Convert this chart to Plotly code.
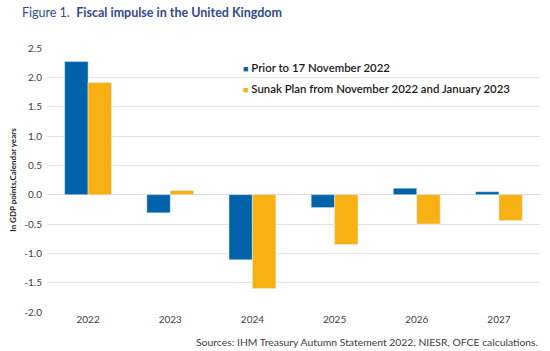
import plotly.graph_objects as go

years = ["2022", "2023", "2024", "2025", "2026", "2027"]
prior = [2.27, -0.31, -1.11, -0.22, 0.11, 0.05]
sunak = [1.91, 0.07, -1.60, -0.85, -0.50, -0.44]
series_names = ["Prior to 17 November 2022", "Sunak Plan from November 2022 and January 2023"]
colors = ["#0063A9", "#F8B112"]
tick_vals = [2.5, 2.0, 1.5, 1.0, 0.5, 0.0, -0.5, -1.0, -1.5, -2.0]
tick_text = [f"{v:.1f}" for v in tick_vals]

font_family = "Lato, 'Open Sans', sans-serif"

fig = go.Figure()
for vals, name, col in zip([prior, sunak], series_names, colors):
    fig.add_trace(go.Bar(x=years, y=vals, name=name, marker=dict(color=col)))

fig.update_layout(
    width=550, height=351,
    margin=dict(l=47, r=10, t=48, b=39),
    plot_bgcolor="white", paper_bgcolor="white",
    barmode="group", bargap=0.43, bargroupgap=0,
    font=dict(family=font_family, size=10, color="#404040"),
    showlegend=False,
    xaxis=dict(showgrid=False, showline=False, ticks="", tickfont=dict(size=10, color="#404040")),
    yaxis=dict(range=[-2.0, 2.5], tickvals=tick_vals, ticktext=tick_text,
               gridcolor="#E3E3E3", gridwidth=1, zeroline=True, zerolinecolor="#D9D9D9", zerolinewidth=1,
               showline=False, ticks="", tickfont=dict(size=10, color="#404040"), ticklabelstandoff=4,
               title=dict(text="<b>In GDP points,Calendar years</b>", font=dict(size=8, color="#1a1a1a"), standoff=6)),
)

legend_y = [0.928, 0.845]
for name, col, ly in zip(series_names, colors, legend_y):
    fig.add_annotation(text=f"<span style='color:{col};font-size:9px'>■</span> {name}",
                       xref="paper", yref="paper", x=0.3935, xanchor="left", y=ly, yanchor="middle",
                       showarrow=False, font=dict(size=11.4, color="#1a1a1a", family=font_family, weight=600))

fig.add_annotation(text="Figure 1.  <b>Fiscal impulse in the United Kingdom</b>",
                   xref="paper", yref="paper", x=-0.0548, xanchor="left", y=1.1326, yanchor="middle",
                   showarrow=False, font=dict(size=12.5, color="#2F4B8C", family=font_family))

fig.add_annotation(text="Sources: IHM Treasury Autumn Statement 2022, NIESR, OFCE calculations.",
                   xref="paper", yref="paper", x=1.0, xanchor="right", y=-0.083, yanchor="top",
                   showarrow=False, font=dict(size=10.4, color="#404040"))

fig.write_html("out.html")
